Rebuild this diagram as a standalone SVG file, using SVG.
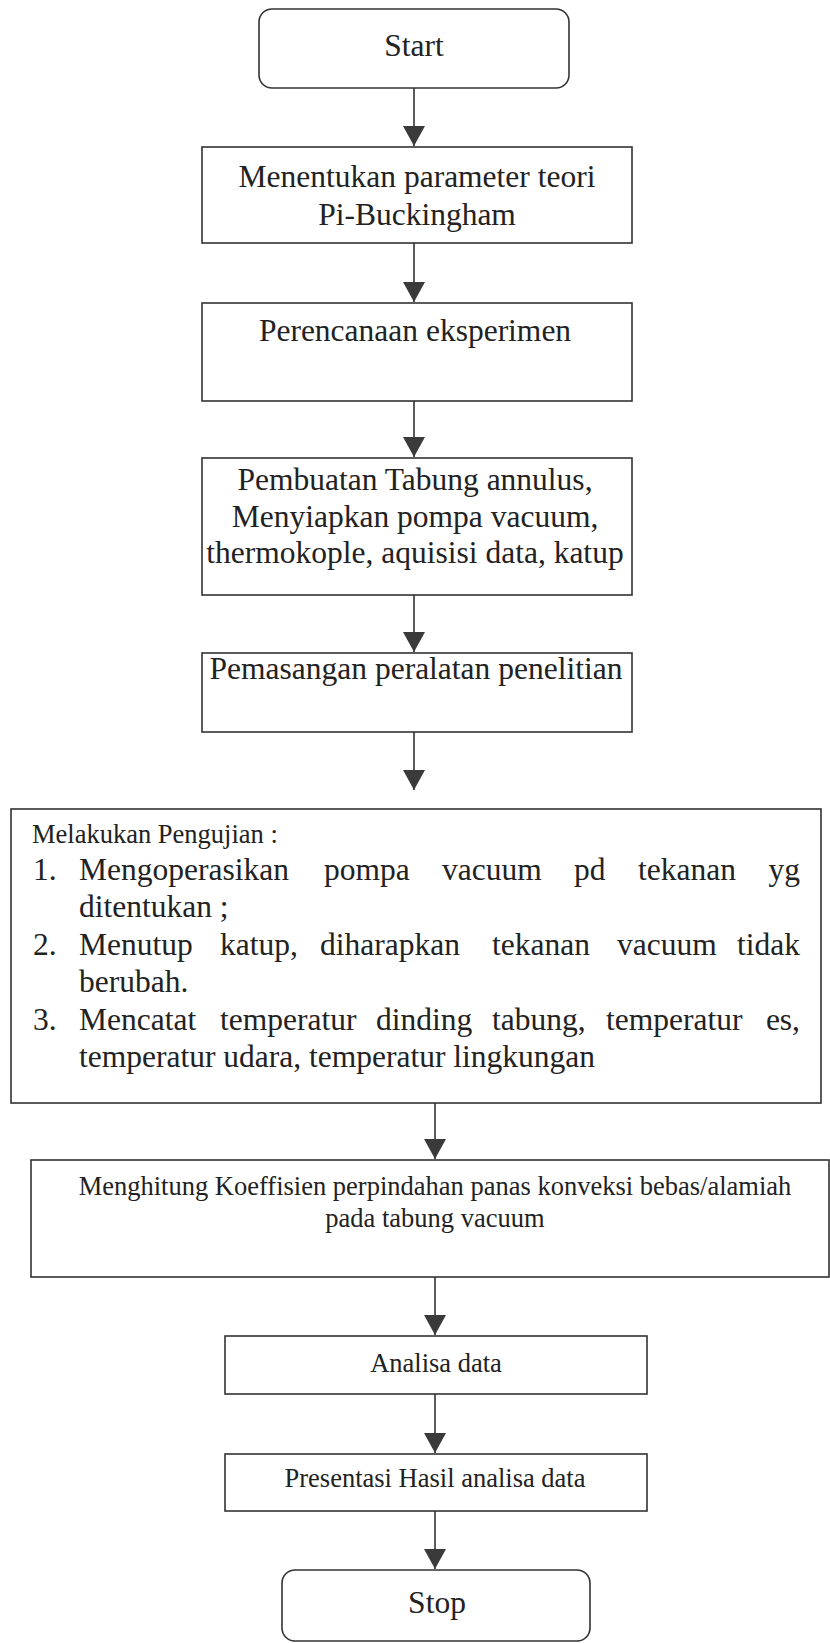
<svg xmlns="http://www.w3.org/2000/svg" width="830" height="1643" viewBox="0 0 830 1643">
<defs>
<marker id="ah" markerUnits="userSpaceOnUse" markerWidth="20" markerHeight="22" viewBox="0 -11 20 22" refX="20" refY="0" orient="auto">
<path d="M0,-11 L20,0 L0,11 z" fill="#3a3a3a"/>
</marker>
<style>
.bx{fill:#fff;stroke:#333;stroke-width:1.6}
.ln{stroke:#333;stroke-width:1.6;fill:none;marker-end:url(#ah)}
.t{font-family:"Liberation Serif","Times New Roman",serif;fill:#222}
.L{font-size:31.5px}
.S{font-size:26.5px}
.c{text-anchor:middle}
</style>
</defs>
<rect width="830" height="1643" fill="#fff"/>
<g id="connectors">
<line class="ln" x1="414" y1="88" x2="414" y2="146"/>
<line class="ln" x1="414" y1="243" x2="414" y2="302"/>
<line class="ln" x1="414" y1="401" x2="414" y2="457"/>
<line class="ln" x1="414" y1="595" x2="414" y2="652"/>
<line class="ln" x1="414" y1="732" x2="414" y2="790"/>
<line class="ln" x1="435" y1="1103" x2="435" y2="1159"/>
<line class="ln" x1="435" y1="1277" x2="435" y2="1335"/>
<line class="ln" x1="435" y1="1394" x2="435" y2="1453"/>
<line class="ln" x1="435" y1="1511" x2="435" y2="1569"/>
</g>
<g id="start">
<rect class="bx" x="259" y="9" width="310" height="79" rx="13"/>
<text class="t L c" x="414" y="56">Start</text>
</g>
<g id="menentukan">
<rect class="bx" x="202" y="147" width="430" height="96"/>
<text class="t L c" x="417" y="187">Menentukan parameter teori</text>
<text class="t L c" x="417" y="225">Pi-Buckingham</text>
</g>
<g id="perencanaan">
<rect class="bx" x="202" y="303" width="430" height="98"/>
<text class="t L c" x="415" y="341">Perencanaan eksperimen</text>
</g>
<g id="pembuatan">
<rect class="bx" x="202" y="458" width="430" height="137"/>
<text class="t L c" x="415" y="490">Pembuatan Tabung annulus,</text>
<text class="t L c" x="415" y="527">Menyiapkan pompa vacuum,</text>
<text class="t L c" x="415" y="563">thermokople, aquisisi data, katup</text>
</g>
<g id="pemasangan">
<rect class="bx" x="202" y="653" width="430" height="79"/>
<text class="t L c" x="416" y="679">Pemasangan peralatan penelitian</text>
</g>
<g id="pengujian">
<rect class="bx" x="11" y="809" width="810" height="294"/>
<text class="t S" x="32" y="843">Melakukan Pengujian :</text>
<text class="t L" x="33" y="880">1.</text>
<text class="t L" x="79" y="880">Mengoperasikan</text>
<text class="t L" x="324" y="880">pompa</text>
<text class="t L" x="442" y="880">vacuum</text>
<text class="t L" x="574" y="880">pd</text>
<text class="t L" x="638" y="880">tekanan</text>
<text class="t L" x="800" y="880" text-anchor="end">yg</text>
<text class="t L" x="79" y="917">ditentukan ;</text>
<text class="t L" x="33" y="955">2.</text>
<text class="t L" x="79" y="955">Menutup</text>
<text class="t L" x="220" y="955">katup,</text>
<text class="t L" x="320" y="955">diharapkan</text>
<text class="t L" x="492" y="955">tekanan</text>
<text class="t L" x="617" y="955">vacuum</text>
<text class="t L" x="800" y="955" text-anchor="end">tidak</text>
<text class="t L" x="79" y="992">berubah.</text>
<text class="t L" x="33" y="1030">3.</text>
<text class="t L" x="79" y="1030">Mencatat</text>
<text class="t L" x="220" y="1030">temperatur</text>
<text class="t L" x="376" y="1030">dinding</text>
<text class="t L" x="492" y="1030">tabung,</text>
<text class="t L" x="606" y="1030">temperatur</text>
<text class="t L" x="800" y="1030" text-anchor="end">es,</text>
<text class="t L" x="79" y="1067">temperatur udara, temperatur lingkungan</text>
</g>
<g id="menghitung">
<rect class="bx" x="31" y="1160" width="798" height="117"/>
<text class="t S c" x="435" y="1195">Menghitung Koeffisien perpindahan panas konveksi bebas/alamiah</text>
<text class="t S c" x="435" y="1227">pada tabung vacuum</text>
</g>
<g id="analisa">
<rect class="bx" x="225" y="1336" width="422" height="58"/>
<text class="t S c" x="436" y="1372">Analisa data</text>
</g>
<g id="presentasi">
<rect class="bx" x="225" y="1454" width="422" height="57"/>
<text class="t S c" x="435" y="1487">Presentasi Hasil analisa data</text>
</g>
<g id="stop">
<rect class="bx" x="282" y="1570" width="308" height="71" rx="13"/>
<text class="t L c" x="437" y="1613">Stop</text>
</g>
</svg>
